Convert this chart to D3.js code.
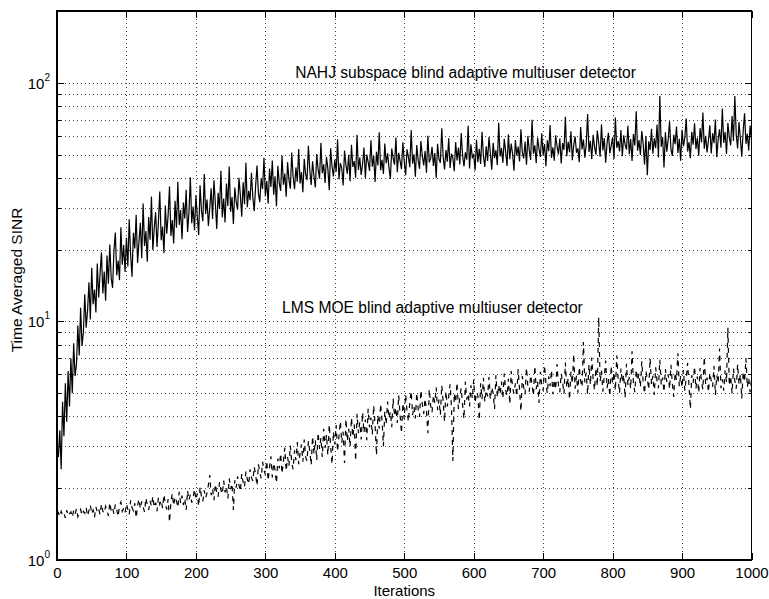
<!DOCTYPE html>
<html>
<head>
<meta charset="utf-8">
<script src="https://cdn.jsdelivr.net/npm/d3@7"></script>
<style>
  body { margin: 0; background: #fff; }
  text { font-family: "Liberation Sans", Arial, Helvetica, sans-serif; fill: #000; }
</style>
</head>
<body>
<svg id="chart" width="769" height="599"></svg>
<script>
// time averaged SINR, one value every 2 iterations (0..1000)
const nahj = [
  3.0, 2.7, 3.5, 2.4, 4.6, 3.3, 5.5, 3.8, 6.2, 4.4,
  7.0, 5.0, 8.1, 5.9, 6.6, 9.6, 7.2, 11.4, 7.9, 9.0,
  13.0, 9.4, 11.1, 14.6, 10.2, 16.8, 11.8, 13.6, 10.9, 17.5,
  12.6, 15.8, 19.5, 13.1, 16.2, 12.2, 18.9, 14.4, 21.0, 15.2,
  13.8, 19.8, 23.6, 15.6, 18.0, 14.9, 24.8, 17.3, 20.9, 16.1,
  22.4, 17.0, 26.8, 19.1, 15.4, 23.5, 20.2, 28.0, 17.6, 21.5,
  25.9, 18.4, 31.2, 20.7, 23.9, 17.8, 27.4, 22.0, 33.4, 19.9,
  24.6, 28.7, 20.5, 26.1, 35.0, 21.9, 25.0, 19.3, 30.6, 23.3,
  27.9, 36.8, 22.8, 26.6, 21.2, 32.0, 24.7, 38.5, 25.4, 29.3,
  22.1, 31.5, 27.0, 35.6, 23.7, 28.5, 40.2, 25.8, 30.3, 24.1,
  33.8, 27.6, 23.0, 37.2, 29.1, 26.3, 41.5, 28.2, 32.4, 25.1,
  30.0, 36.1, 26.9, 39.0, 31.3, 24.4, 34.6, 29.6, 42.8, 27.3,
  32.7, 26.0, 37.8, 30.5, 44.6, 28.8, 33.2, 25.6, 36.4, 31.8,
  29.4, 40.0, 33.9, 27.5, 38.3, 31.0, 46.2, 30.1, 35.3, 32.2,
  42.0, 33.0, 29.0, 37.0, 45.0, 34.4, 31.6, 39.8, 35.9, 48.5,
  33.5, 38.8, 31.2, 43.7, 36.6, 47.2, 34.0, 40.6, 30.4, 44.9,
  38.1, 35.2, 49.6, 37.4, 41.7, 33.3, 46.5, 39.2, 36.0, 51.0,
  40.4, 35.8, 44.2, 38.5, 52.8, 37.9, 42.3, 34.8, 48.0, 41.2,
  39.1, 54.5, 42.9, 37.3, 46.9, 40.7, 36.4, 50.3, 43.4, 39.7,
  56.0, 41.8, 45.5, 38.0, 49.0, 43.8, 35.5, 53.2, 44.7, 40.5,
  47.7, 42.4, 58.0, 39.4, 46.1, 44.0, 37.1, 52.0, 45.3, 41.6,
  49.9, 38.7, 55.0, 44.4, 47.0, 40.0, 60.5, 43.1, 48.6, 41.1,
  45.7, 53.6, 39.8, 50.0, 46.6, 42.7, 57.5, 44.5, 49.3, 38.4,
  51.4, 45.0, 62.0, 43.0, 47.6, 41.5, 55.6, 46.0, 50.6, 44.1,
  39.6, 53.0, 48.3, 45.4, 59.0, 42.2, 50.9, 47.1, 43.5, 56.3,
  46.8, 41.0, 52.6, 48.8, 44.3, 63.4, 45.8, 50.2, 40.4, 54.8,
  47.4, 43.6, 57.0, 49.5, 45.1, 51.8, 42.0, 60.0, 46.4, 48.1,
  53.9, 44.8, 50.8, 39.9, 55.5, 47.9, 46.2, 64.5, 49.0, 43.3,
  52.3, 46.7, 58.6, 44.0, 50.4, 48.5, 42.6, 56.4, 47.3, 53.5,
  45.5, 61.6, 49.8, 44.6, 51.1, 47.7, 66.0, 43.8, 55.2, 48.7,
  50.0, 42.9, 57.7, 46.5, 52.9, 45.7, 62.3, 49.4, 44.4, 54.2,
  47.0, 59.3, 50.7, 43.2, 56.0, 48.3, 52.2, 45.2, 68.0, 49.1,
  53.3, 46.2, 58.2, 51.5, 44.8, 60.9, 47.8, 55.7, 50.3, 42.8,
  57.6, 49.6, 54.0, 46.8, 63.8, 51.0, 48.2, 56.8, 45.4, 59.9,
  52.1, 47.5, 70.0, 50.5, 54.7, 46.0, 58.9, 52.8, 48.9, 61.4,
  49.7, 55.4, 44.7, 57.4, 51.7, 66.5, 48.4, 53.6, 47.2, 60.3,
  54.3, 50.1, 58.4, 45.9, 55.9, 52.4, 72.0, 49.2, 56.6, 51.2,
  62.6, 47.4, 54.9, 59.6, 50.9, 53.1, 46.5, 65.2, 52.6, 57.9,
  48.6, 55.0, 74.0, 51.3, 57.2, 47.9, 60.6, 53.8, 50.0, 63.1,
  56.1, 49.0, 67.0, 52.0, 58.7, 46.3, 55.8, 61.8, 50.6, 54.5,
  59.1, 48.0, 71.5, 53.4, 57.0, 51.6, 63.4, 49.3, 60.2, 55.1,
  52.5, 66.0, 50.2, 58.1, 47.0, 61.0, 54.6, 76.0, 51.9, 57.5,
  49.8, 62.8, 55.6, 45.5, 59.8, 41.0, 56.9, 52.3, 64.2, 50.4,
  58.5, 53.2, 66.9, 48.6, 88.0, 54.0, 59.3, 44.2, 62.1, 51.4,
  57.8, 69.0, 52.7, 49.4, 60.5, 55.3, 65.6, 50.8, 58.3, 47.1,
  63.5, 54.2, 59.0, 70.8, 51.5, 56.5, 48.3, 62.4, 55.0, 67.6,
  52.8, 58.8, 49.5, 64.7, 56.2, 75.0, 53.0, 60.0, 51.1, 57.3,
  66.4, 50.6, 61.5, 55.8, 70.2, 48.8, 58.0, 63.8, 53.5, 78.0,
  56.0, 62.2, 50.3, 67.8, 59.2, 54.7, 72.5, 57.0, 88.0, 60.8,
  53.1, 68.5, 58.2, 49.0, 63.0, 74.5, 55.5, 61.2, 52.0, 66.2,
  57.5
]

const lms = [
  1.55, 1.58, 1.52, 1.60, 1.54, 1.57, 1.50, 1.62, 1.53, 1.56,
  1.59, 1.51, 1.61, 1.55, 1.64, 1.52, 1.58, 1.63, 1.54, 1.60,
  1.57, 1.66, 1.53, 1.61, 1.70, 1.56, 1.62, 1.51, 1.67, 1.59,
  1.64, 1.55, 1.72, 1.60, 1.57, 1.68, 1.62, 1.53, 1.74, 1.61,
  1.66, 1.56, 1.71, 1.63, 1.52, 1.69, 1.75, 1.60, 1.65, 1.58,
  1.72, 1.63, 1.55, 1.78, 1.66, 1.61, 1.73, 1.50, 1.69, 1.80,
  1.64, 1.76, 1.67, 1.59, 1.82, 1.70, 1.62, 1.77, 1.68, 1.85,
  1.66, 1.74, 1.60, 1.83, 1.71, 1.78, 1.65, 1.88, 1.72, 1.63,
  1.80, 1.44, 1.75, 1.90, 1.69, 1.84, 1.77, 1.66, 1.93, 1.73,
  1.86, 1.70, 1.81, 1.62, 1.95, 1.78, 1.88, 1.74, 1.83, 1.98,
  1.79, 1.90, 1.68, 2.02, 1.85, 1.76, 1.96, 1.82, 1.91, 2.06,
  2.27, 1.87, 1.99, 1.78, 2.08, 1.93, 1.84, 2.12, 1.97, 1.89,
  2.15, 1.92, 2.03, 1.81, 2.20, 1.98, 2.09, 1.62, 2.16, 2.01,
  2.24, 2.06, 1.94, 2.30, 2.12, 2.02, 2.35, 2.18, 2.08, 2.40,
  2.22, 2.14, 2.46, 2.28, 2.05, 2.52, 2.33, 2.20, 2.58, 2.38,
  2.28, 2.60, 2.15, 2.45, 2.72, 2.22, 2.55, 2.38, 2.10, 2.66,
  2.42, 2.80, 2.30, 2.58, 2.95, 2.36, 2.70, 2.48, 3.02, 2.55,
  2.40, 2.88, 2.62, 3.12, 2.52, 2.80, 3.05, 2.58, 3.20, 2.70,
  2.60, 3.15, 2.85, 2.50, 3.30, 2.78, 3.18, 2.62, 3.42, 2.92,
  3.25, 2.70, 3.55, 2.95, 3.35, 2.75, 3.70, 3.00, 2.52, 3.45,
  3.05, 3.68, 2.85, 3.30, 3.82, 3.10, 3.45, 2.55, 3.90, 3.15,
  3.55, 2.98, 3.95, 3.28, 3.70, 2.60, 4.10, 3.40, 3.78, 3.20,
  4.15, 3.42, 3.88, 3.18, 4.30, 3.60, 3.95, 3.35, 4.45, 3.70,
  2.75, 4.05, 3.55, 4.52, 3.85, 3.00, 4.20, 3.70, 4.62, 3.92,
  4.18, 3.60, 4.75, 4.00, 4.35, 3.75, 4.90, 4.05, 3.40, 4.55,
  3.90, 4.95, 4.22, 3.80, 4.60, 5.10, 4.05, 4.40, 3.92, 5.02,
  4.30, 3.98, 5.15, 4.50, 4.10, 4.75, 4.22, 3.40, 5.20, 4.45,
  4.15, 4.90, 4.55, 5.30, 4.25, 4.70, 4.05, 5.40, 4.62, 3.80,
  5.10, 4.40, 4.85, 5.45, 4.35, 2.60, 5.00, 4.58, 5.55, 4.30,
  4.80, 5.25, 4.48, 3.90, 5.60, 4.70, 4.98, 4.40, 5.40, 4.75,
  5.70, 4.55, 5.05, 4.90, 3.85, 5.50, 4.72, 5.80, 4.60, 5.15,
  4.85, 5.85, 4.70, 5.30, 5.00, 4.30, 5.95, 4.80, 5.42, 4.95,
  5.60, 4.75, 6.05, 5.15, 4.88, 5.75, 4.50, 6.20, 5.25, 5.00,
  5.50, 4.85, 6.30, 5.18, 4.20, 5.90, 5.30, 4.95, 6.40, 5.35,
  5.08, 5.95, 5.45, 4.88, 6.50, 5.20, 5.62, 4.55, 6.15, 5.42,
  5.12, 6.55, 5.50, 5.00, 5.88, 5.35, 6.25, 4.95, 5.70, 5.18,
  6.62, 5.40, 5.05, 6.05, 5.58, 4.98, 6.72, 5.28, 5.78, 4.70,
  6.15, 5.48, 7.30, 5.22, 5.92, 5.02, 6.45, 5.62, 5.30, 8.20,
  5.55, 6.10, 4.95, 6.60, 5.42, 7.05, 5.68, 5.15, 6.38, 5.35,
  10.4, 5.60, 6.22, 5.08, 5.88, 6.85, 5.25, 5.75, 4.85, 6.52,
  5.48, 6.12, 5.12, 7.20, 5.70, 5.00, 6.35, 5.55, 5.98, 4.78,
  6.65, 5.40, 5.85, 5.22, 7.50, 5.52, 5.05, 6.28, 5.65, 6.05,
  5.30, 6.80, 5.58, 4.98, 6.18, 5.78, 5.18, 7.00, 5.45, 5.92,
  4.92, 6.42, 5.62, 5.25, 6.90, 5.42, 5.82, 5.05, 6.32, 5.58,
  6.00, 5.20, 6.58, 5.50, 4.82, 6.10, 5.68, 7.35, 5.35, 5.90,
  5.28, 6.25, 5.12, 5.75, 6.70, 5.40, 4.30, 5.95, 5.52, 6.48,
  5.22, 5.88, 5.02, 6.38, 5.60, 5.18, 7.10, 5.45, 5.82, 5.05,
  6.08, 5.65, 5.32, 6.50, 4.92, 5.95, 5.50, 7.70, 5.25, 5.72,
  5.12, 6.22, 5.55, 9.40, 5.38, 5.90, 4.98, 6.35, 5.62, 5.22,
  6.62, 5.45, 6.00, 4.75, 6.15, 5.58, 7.00, 5.30, 5.80, 5.05,
  5.70
]

const iterations = d3.range(0, 1001, 2)
const xTicks = [0, 100, 200, 300, 400, 500, 600, 700, 800, 900, 1000]
const yMajor = [1, 10, 100]
const yMinor = [2, 3, 4, 5, 6, 7, 8, 9, 20, 30, 40, 50, 60, 70, 80, 90]
const notes = [
  {text: "NAHJ subspace blind adaptive multiuser detector", iter: 343, value: 110},
  {text: "LMS MOE blind adaptive multiuser detector", iter: 324, value: 11.4}
]

const svg = d3.select("#chart")
const plotLeft = 57, plotRight = 751.5, plotTop = 11, plotBottom = 560

const x = d3.scaleLinear().domain([0, 1000]).range([plotLeft, plotRight])
const y = d3.scaleLog().domain([1, 200]).range([plotBottom, plotTop])

svg.append("rect").attr("width", 769).attr("height", 599).attr("fill", "#fff")

// dotted grid
const grid = svg.append("g")
  .attr("stroke", "#444")
  .attr("stroke-width", 1)
  .attr("stroke-dasharray", "1,3")
  .attr("shape-rendering", "crispEdges")
grid.selectAll(".gx")
  .data(xTicks.slice(1, -1))
  .enter().append("line")
  .attr("x1", d => Math.round(x(d)) + 0.5).attr("x2", d => Math.round(x(d)) + 0.5)
  .attr("y1", plotTop).attr("y2", plotBottom)
grid.selectAll(".gy")
  .data(yMinor.concat([10, 100]))
  .enter().append("line")
  .attr("x1", plotLeft).attr("x2", plotRight)
  .attr("y1", d => Math.round(y(d)) + 0.5).attr("y2", d => Math.round(y(d)) + 0.5)

// data lines
const line = d3.line()
  .x((d, i) => x(iterations[i]))
  .y(d => y(d))

svg.append("path")
  .datum(nahj)
  .attr("fill", "none")
  .attr("stroke", "#000")
  .attr("stroke-width", 1.2)
  .attr("d", line)

svg.append("path")
  .datum(lms)
  .attr("fill", "none")
  .attr("stroke", "#000")
  .attr("stroke-width", 1.2)
  .attr("stroke-dasharray", "5,5")
  .attr("d", line)

// axes with inward ticks
function tidy(g) {
  g.select(".domain").remove()
  g.selectAll("line").attr("stroke", "#000").attr("shape-rendering", "crispEdges")
}

svg.append("g")
  .attr("transform", `translate(0,${plotBottom})`)
  .call(d3.axisBottom(x).tickValues(xTicks).tickSizeInner(-7).tickSizeOuter(0).tickPadding(7).tickFormat(d3.format("d")))
  .call(tidy)
  .call(g => g.selectAll("text").attr("font-size", 15).attr("font-family", "Liberation Sans, Arial, sans-serif"))

svg.append("g")
  .attr("transform", `translate(0,${plotTop})`)
  .call(d3.axisTop(x).tickValues(xTicks).tickSizeInner(-7).tickSizeOuter(0).tickFormat(""))
  .call(tidy)

svg.append("g")
  .attr("transform", `translate(${plotLeft},0)`)
  .call(d3.axisLeft(y).tickValues(yMajor).tickSizeInner(-7).tickSizeOuter(0).tickFormat(""))
  .call(tidy)
svg.append("g")
  .attr("transform", `translate(${plotLeft},0)`)
  .call(d3.axisLeft(y).tickValues(yMinor).tickSizeInner(-4).tickSizeOuter(0).tickFormat(""))
  .call(tidy)
svg.append("g")
  .attr("transform", `translate(${plotRight},0)`)
  .call(d3.axisRight(y).tickValues(yMajor).tickSizeInner(-7).tickSizeOuter(0).tickFormat(""))
  .call(tidy)
svg.append("g")
  .attr("transform", `translate(${plotRight},0)`)
  .call(d3.axisRight(y).tickValues(yMinor).tickSizeInner(-4).tickSizeOuter(0).tickFormat(""))
  .call(tidy)

// log labels 10^n
const yl = svg.append("g").selectAll("text")
  .data(yMajor)
  .enter().append("text")
  .attr("x", plotLeft - 7)
  .attr("y", d => y(d) + 6)
  .attr("text-anchor", "end")
  .attr("font-size", 15)
yl.append("tspan").text("10")
yl.append("tspan")
  .attr("font-size", 10)
  .attr("dy", -8)
  .text(d => Math.round(Math.log10(d)))

// frame
svg.append("rect")
  .attr("x", plotLeft).attr("y", plotTop)
  .attr("width", plotRight - plotLeft).attr("height", plotBottom - plotTop)
  .attr("fill", "none")
  .attr("stroke", "#000")
  .attr("stroke-width", 1.2)
  .attr("shape-rendering", "crispEdges")

// axis titles
svg.append("text")
  .attr("x", (plotLeft + plotRight) / 2)
  .attr("y", 596)
  .attr("text-anchor", "middle")
  .attr("font-size", 15)
  .text("Iterations")

svg.append("text")
  .attr("transform", `translate(22,280) rotate(-90)`)
  .attr("text-anchor", "middle")
  .attr("font-size", 15.5)
  .text("Time Averaged SINR")

// curve annotations
svg.append("g").selectAll("text")
  .data(notes)
  .enter().append("text")
  .attr("x", d => x(d.iter))
  .attr("y", d => y(d.value))
  .attr("dy", "0.35em")
  .attr("font-size", 15.6)
  .text(d => d.text)
</script>
</body>
</html>
